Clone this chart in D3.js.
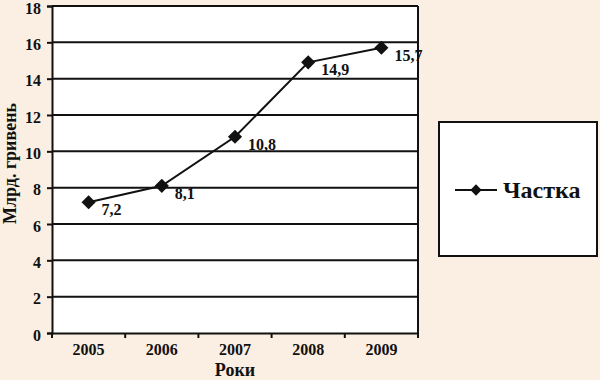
<!DOCTYPE html>
<html><head><meta charset="utf-8">
<script src="https://cdn.jsdelivr.net/npm/d3@7"></script>
<style>
html,body{margin:0;padding:0;background:#FBEEE2;}
svg{display:block;}
</style></head>
<body>
<svg id="c" width="600" height="380"></svg>
<script>
const years = ["2005","2006","2007","2008","2009"];
const values = [7.2, 8.1, 10.8, 14.9, 15.7];
const labels = ["7,2","8,1","10,8","14,9","15,7"];
const yTicks = [0,2,4,6,8,10,12,14,16,18];
const seriesName = "Частка";
const yTitle = "Млрд. гривень";
const xTitle = "Роки";

const FONT = "'Liberation Serif', 'Times New Roman', serif";
const svg = d3.select("#c");
const L = 52, R = 418, T = 6, B = 333;
const x = d3.scaleBand().domain(years).range([L, R]).padding(0);
const y = d3.scaleLinear().domain([0, 18]).range([B, T]);

svg.append("rect").attr("x", L).attr("y", T).attr("width", R - L).attr("height", B - T).attr("fill", "#fff");

svg.append("g").selectAll("line").data(yTicks.filter(d => d > 0)).join("line")
  .attr("x1", L).attr("x2", R).attr("y1", d => y(d)).attr("y2", d => y(d))
  .attr("stroke", "#111").attr("stroke-width", 2);
svg.append("line").attr("x1", R).attr("x2", R).attr("y1", T).attr("y2", B).attr("stroke", "#111").attr("stroke-width", 2);

const ya = svg.append("g").attr("transform", `translate(${L},0)`)
  .call(d3.axisLeft(y).tickValues(yTicks).tickSize(5).tickPadding(6));
ya.select(".domain").attr("stroke", "#111").attr("stroke-width", 2);
ya.selectAll(".tick line").attr("stroke", "#111").attr("stroke-width", 2);
ya.selectAll("text").style("font-size", "16px").attr("dy", "0.45em");

const xa = svg.append("g").attr("transform", `translate(0,${B})`)
  .call(d3.axisBottom(x).tickSize(0).tickPadding(11));
xa.select(".domain").attr("stroke", "#111").attr("stroke-width", 2);
xa.selectAll("text").style("font-size", "16px");
const bounds = years.map(d => x(d)).concat([R]);
xa.selectAll(".bt").data(bounds).join("line").attr("class", "bt")
  .attr("x1", d => d).attr("x2", d => d).attr("y1", 0).attr("y2", 5)
  .attr("stroke", "#111").attr("stroke-width", 2);

svg.append("text").attr("transform", `translate(16,${(T + B) / 2 - 6}) rotate(-90)`)
  .attr("text-anchor", "middle").style("font-size", "18px").text(yTitle);
svg.append("text").attr("x", (L + R) / 2).attr("y", 376)
  .attr("text-anchor", "middle").style("font-size", "18px").text(xTitle);

const cx = d => x(d) + x.bandwidth() / 2;
const line = d3.line().x((d, i) => cx(years[i])).y(d => y(d));
svg.append("path").datum(values).attr("d", line).attr("fill", "none").attr("stroke", "#111").attr("stroke-width", 2);

svg.append("g").selectAll("rect").data(values).join("rect")
  .attr("x", -5).attr("y", -5).attr("width", 10).attr("height", 10)
  .attr("transform", (d, i) => `translate(${cx(years[i])},${y(d)}) rotate(45)`)
  .attr("fill", "#111");

svg.append("g").selectAll("text").data(values).join("text")
  .attr("x", (d, i) => cx(years[i]) + 13)
  .attr("y", d => y(d) + 13)
  .style("font-size", "16px").text((d, i) => labels[i]);

const lg = svg.append("g");
lg.append("rect").attr("x", 439).attr("y", 122).attr("width", 158).attr("height", 134)
  .attr("fill", "#fff").attr("stroke", "#111").attr("stroke-width", 2);
lg.append("line").attr("x1", 455).attr("x2", 497).attr("y1", 190).attr("y2", 190).attr("stroke", "#111").attr("stroke-width", 2);
lg.append("rect").attr("x", -4).attr("y", -4).attr("width", 8).attr("height", 8)
  .attr("transform", "translate(476,190) rotate(45)").attr("fill", "#111");
lg.append("text").attr("x", 503).attr("y", 198).style("font-size", "24px").text(seriesName);

svg.selectAll("text").style("font-family", FONT).style("font-weight", "bold").attr("fill", "#111");
</script>
</body></html>
